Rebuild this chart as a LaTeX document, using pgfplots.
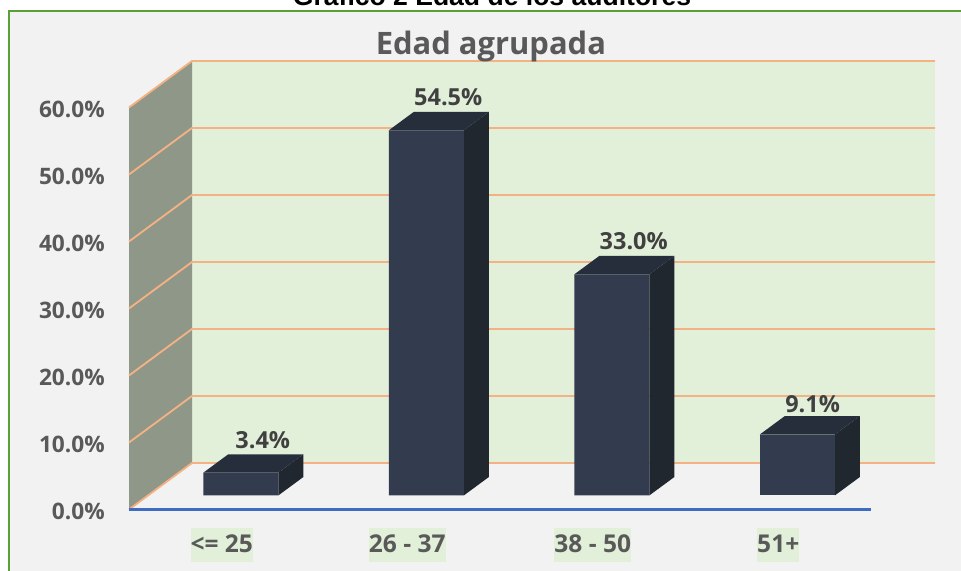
\documentclass[border=0pt]{standalone}
\usepackage{fontspec}
\setmainfont{Open Sans}
\newfontfamily\arialfont{Liberation Sans}
\usepackage{pgfplots}
\pgfplotsset{compat=1.18}
\definecolor{wallback}{HTML}{E2EFD9}
\definecolor{wallside}{HTML}{8E9788}
\definecolor{gridor}{HTML}{F4B183}
\definecolor{axisblue}{HTML}{3F6CC0}
\definecolor{bgg}{HTML}{F2F2F2}
\definecolor{framegreen}{HTML}{5B9F3A}
\definecolor{barfront}{HTML}{323C4E}
\definecolor{bartop}{HTML}{252E3A}
\definecolor{barside}{HTML}{20272F}
\definecolor{txt}{HTML}{595959}
\definecolor{lbl}{HTML}{404040}
\begin{document}
\begin{tikzpicture}
\useasboundingbox (0,0) rectangle (720.75pt,428.25pt);
\clip (0,0) rectangle (720.75pt,428.25pt);
\fill[white] (0,0) rectangle (720.75pt,428.25pt);
\fill[bgg] (6.75pt,-5pt) rectangle (730pt,420pt);
\draw[framegreen,line width=1.5pt] (6.75pt,-5pt) -- (6.75pt,420pt) -- (730pt,420pt);
\node[font=\arialfont\bfseries\fontsize{19.9}{20}\selectfont,anchor=base,text=black] at (369pt,423.75pt) {Gráfico 2 Edad de los auditores};
\begin{axis}[
  at={(96.75pt,46.125pt)}, anchor=south west,
  scale only axis, width=604.5pt, height=336.375pt,
  xmin=129, xmax=935, ymin=0, ymax=66.94,
  clip=false,
  axis line style={draw=none},
  major tick length=0pt,
  xtick=\empty,
  ytick={0,10,20,30,40,50,60},
  yticklabel={\pgfmathprintnumber[fixed,fixed zerofill,precision=1]{\tick}\%},
  /pgf/number format/assume math mode=true,
  yticklabel style={font=\bfseries\fontsize{17}{17}\selectfont,text=txt,inner sep=0pt,xshift=-18pt,yshift=-1.6pt},
  title={Edad agrupada},
  title style={at={(axis description cs:0.449,1.0155)},anchor=center,font=\bfseries\fontsize{23.2}{24}\selectfont,text=txt},
]
\addplot[fill=wallback,draw=none] coordinates {(192,6.94)(935,6.94)(935,66.94)(192,66.94)} -- cycle;
\addplot[fill=wallside,draw=none] coordinates {(129,0)(192,6.94)(192,66.94)(129,60)} -- cycle;
\pgfplotsinvokeforeach{0,10,20,30,40,50,60}{
  \addplot[gridor,line width=1.4pt] coordinates {(129,#1)(192,#1+6.94)(935,#1+6.94)};
}
\addplot[color=axisblue,line width=1.6pt] coordinates {(129,0)(871,0)};
\end{axis}
\begin{axis}[
  at={(96.75pt,56.625pt)}, anchor=south west,
  scale only axis, width=556.5pt, height=301.5pt,
  xmin=-0.5, xmax=3.5, ymin=0, ymax=60,
  clip=false,
  axis line style={draw=none},
  major tick length=0pt,
  ytick=\empty,
  xtick={0,1,2,3},
  xticklabels={{<= 25},{26 - 37},{38 - 50},{51+}},
  xticklabel style={font=\bfseries\fontsize{18.4}{18}\selectfont,text=txt,fill=wallback,anchor=center,
    yshift=-37.5pt,inner xsep=0pt,inner ysep=0pt,text height=18pt,text depth=7.5pt},
  nodes near coords={\pgfmathprintnumber[fixed,fixed zerofill,precision=1]{\pgfplotspointmeta}\%},
  /pgf/number format/assume math mode=true,
  nodes near coords style={font=\bfseries\fontsize{17.6}{17}\selectfont,text=lbl,anchor=center,inner sep=0pt},
]
% side faces
\addplot[fill=barside,draw=none,nodes near coords={}] coordinates {(0.3046,0)(0.4394,2.75)(0.4394,6.15)(0.3046,3.4)} -- cycle;
\addplot[fill=barside,draw=none,nodes near coords={}] coordinates {(1.3046,0)(1.4394,2.75)(1.4394,57.25)(1.3046,54.5)} -- cycle;
\addplot[fill=barside,draw=none,nodes near coords={}] coordinates {(2.3046,0)(2.4394,2.75)(2.4394,35.75)(2.3046,33.0)} -- cycle;
\addplot[fill=barside,draw=none,nodes near coords={}] coordinates {(3.3046,0)(3.4394,2.75)(3.4394,11.85)(3.3046,9.1)} -- cycle;
% top faces
\addplot[fill=bartop,draw=none,nodes near coords={}] coordinates {(-0.0997,3.4)(0.0351,6.15)(0.4394,6.15)(0.3046,3.4)} -- cycle;
\addplot[fill=bartop,draw=none,nodes near coords={}] coordinates {(0.9003,54.5)(1.0351,57.25)(1.4394,57.25)(1.3046,54.5)} -- cycle;
\addplot[fill=bartop,draw=none,nodes near coords={}] coordinates {(1.9003,33.0)(2.0351,35.75)(2.4394,35.75)(2.3046,33.0)} -- cycle;
\addplot[fill=bartop,draw=none,nodes near coords={}] coordinates {(2.9003,9.1)(3.0351,11.85)(3.4394,11.85)(3.3046,9.1)} -- cycle;
% front faces
\addplot[ybar,bar width=56.25pt,bar shift=14.25pt,fill=barfront,draw=none,
  nodes near coords style={xshift=30.75pt,yshift=24.75pt}] coordinates {(0,3.4)(1,54.5)(2,33.0)};
\addplot[ybar,bar width=56.25pt,bar shift=14.25pt,fill=barfront,draw=none,
  nodes near coords style={xshift=25.75pt,yshift=22.5pt}] coordinates {(3,9.1)};
\end{axis}
\end{tikzpicture}
\end{document}
